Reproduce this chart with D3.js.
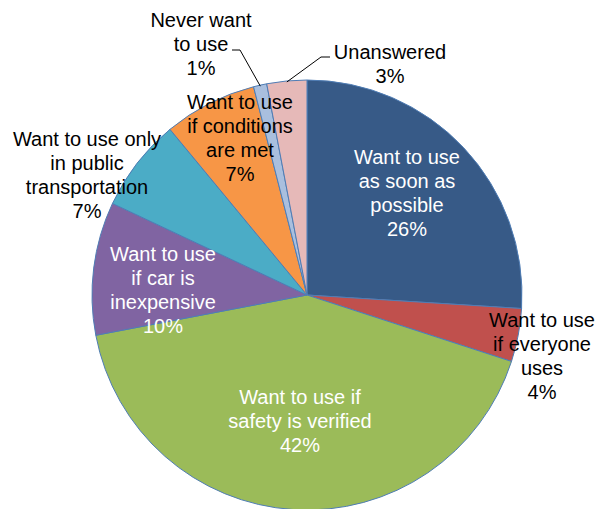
<!DOCTYPE html>
<html>
<head>
<meta charset="utf-8">
<script src="https://cdn.jsdelivr.net/npm/d3@7"></script>
<style>
  html, body { margin: 0; padding: 0; background: #fff; }
  svg { display: block; }
  text { font-family: "Liberation Sans", Arial, sans-serif; font-size: 20px; }
</style>
</head>
<body>
<svg id="chart" width="599" height="509"></svg>
<script>
// Survey answers, in drawing order (clockwise from 12 o'clock)
const categories = [
  "Want to use as soon as possible",
  "Want to use if everyone uses",
  "Want to use if safety is verified",
  "Want to use if car is inexpensive",
  "Want to use only in public transportation",
  "Want to use if conditions are met",
  "Never want to use",
  "Unanswered"
];
const shares = [26, 4, 42, 10, 7, 7, 1, 3];
const labelLines = [
  ["Want to use", "as soon as", "possible"],
  ["Want to use", "if everyone", "uses"],
  ["Want to use if", "safety is verified"],
  ["Want to use", "if car is", "inexpensive"],
  ["Want to use only", "in public", "transportation"],
  ["Want to use", "if conditions", "are met"],
  ["Never want", "to use"],
  ["Unanswered"]
];
const colors = ["#375A87", "#C0504D", "#9BBB59", "#8064A2", "#4BACC6", "#F79646", "#A9BFDE", "#E6B9B8"];
const labelColors = ["#fff", "#000", "#fff", "#fff", "#000", "#000", "#000", "#000"];

// Layout: label block centres relative to the pie centre
const labelOffsets = [
  [100, -102], [235, 61], [-7, 126], [-144, -5],
  [-220, -120], [-67, -157], [-106, -251], [83, -231]
];
const cx = 307, cy = 295, radius = 215, lineH = 24;

const svg = d3.select("#chart");
const g = svg.append("g").attr("transform", `translate(${cx},${cy})`);

const pie = d3.pie().sort(null).value(d => d.v);
const arcs = pie(shares.map((v, i) => ({ v, i })));
const arc = d3.arc().innerRadius(0).outerRadius(radius);

g.selectAll("path.slice")
  .data(arcs)
  .join("path")
  .attr("class", "slice")
  .attr("d", arc)
  .attr("fill", d => colors[d.data.i])
  .attr("stroke", "#4F7DB5")
  .attr("stroke-width", 1)
  .attr("stroke-linejoin", "round");

// Leader lines for the two thin slices at the top
const leaderArc = d3.arc().innerRadius(radius - 1).outerRadius(radius - 1);
function leader(i, knee, end) {
  const p = leaderArc.centroid(arcs[i]);
  g.append("path")
    .attr("d", d3.line()([p, knee, end]))
    .attr("fill", "none")
    .attr("stroke", "#000")
    .attr("stroke-width", 1);
}
leader(6, [-67, -245], [-75, -245]);
leader(7, [14, -238], [23, -238]);

// Labels: category lines followed by the percentage
arcs.forEach(a => {
  const i = a.data.i;
  const lines = labelLines[i].concat([shares[i] + "%"]);
  const [ox, oy] = labelOffsets[i];
  const firstBase = oy - (lines.length - 1) * lineH / 2 + 7;
  const t = g.append("text")
    .attr("text-anchor", "middle")
    .attr("fill", labelColors[i]);
  lines.forEach((s, k) => {
    t.append("tspan")
      .attr("x", ox)
      .attr("y", firstBase + k * lineH)
      .text(s);
  });
});
</script>
</body>
</html>
